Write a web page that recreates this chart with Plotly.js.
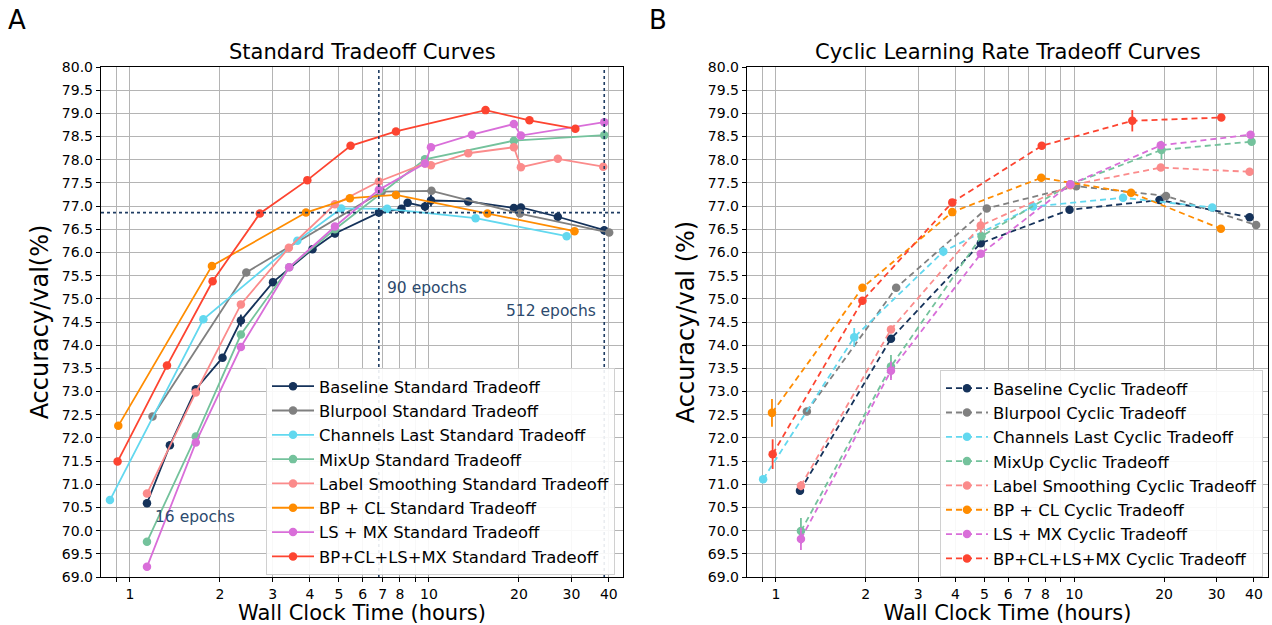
<!DOCTYPE html>
<html>
<head>
<meta charset="utf-8">
<script src="https://cdn.plot.ly/plotly-3.0.1.min.js"></script>
<style>html,body{margin:0;padding:0;background:#fff;}#chart{width:1272px;height:625px;}</style>
</head>
<body>
<div id="chart"></div>
<script>
// ---------- Standard tradeoff (panel A) ----------
const stdBaselineX = [1.14,1.36,1.66,2.04,2.35,3.01,4.08,4.85,6.80,8.10,8.49,9.70,10.16,13.54,19.24,20.31,27.0,38.6];
const stdBaselineY = [70.59,71.84,73.05,73.73,74.53,75.36,76.07,76.41,76.86,76.94,77.07,76.99,77.12,77.10,76.96,76.97,76.77,76.48];
const stdBaselineE = [0.03,0.03,0.03,0.03,0.13,0.03,0.05,0.08,0.03,0.05,0.08,0.1,0.13,0.05,0.05,0.05,0.05,0.05];
const stdBlurX = [1.19,2.45,6.95,10.2,20.15,40.1];
const stdBlurY = [72.46,75.57,77.31,77.33,76.84,76.43];
const stdCLX = [0.857,1.76,3.63,5.09,7.25,14.33,28.9];
const stdCLY = [70.66,74.56,76.25,76.95,76.94,76.74,76.35];
const stdMixX = [1.14,1.66,2.35,3.41,4.85,9.70,19.24,38.6];
const stdMixY = [69.76,72.03,74.23,75.68,76.50,78.01,78.41,78.53];
const stdLSX = [1.14,1.66,2.35,3.40,4.85,6.80,9.70,10.16,13.54,19.24,20.31,27.0,38.3];
const stdLSY = [70.80,72.98,74.88,76.10,77.04,77.53,77.92,77.88,78.14,78.27,77.84,78.02,77.85];
const stdBPCLX = [0.914,1.88,3.88,5.44,7.76,15.7,30.7];
const stdBPCLY = [72.26,75.71,76.86,77.17,77.24,76.84,76.46];
const stdLSMXX = [1.14,1.66,2.35,3.41,4.85,6.80,9.70,10.16,13.93,19.24,20.31,38.6];
const stdLSMXY = [69.22,71.90,73.96,75.68,76.56,77.35,77.92,78.27,78.54,78.77,78.52,78.81];
const stdAllX = [0.909,1.33,1.89,2.72,3.92,5.47,7.76,15.47,21.7,30.9];
const stdAllY = [71.49,73.56,75.38,76.84,77.56,78.30,78.61,79.07,78.85,78.67];

// ---------- Cyclic tradeoff (panel B) ----------
const cycBaselineX = [1.204,2.43,4.86,9.64,19.3,38.7];
const cycBaselineY = [70.86,74.14,76.20,76.92,77.13,76.76];
const cycBaselineE = [0.03,0.06,0.05,0.03,0.05,0.03];
const cycBlurX = [1.27,2.53,5.09,10.16,20.3,40.7];
const cycBlurY = [72.57,75.24,76.95,77.43,77.22,76.59];
const cycBlurE = [0.06,0.05,0.03,0.03,0.03,0.03];
const cycCLX = [0.906,1.83,3.64,7.27,14.57,29.0];
const cycCLY = [71.11,74.17,76.02,76.99,77.18,76.97];
const cycCLE = [0.06,0.2,0.1,0.03,0.03,0.03];
const cycMixX = [1.213,2.43,4.89,9.70,19.6,39.3];
const cycMixY = [69.99,73.54,76.35,77.47,78.21,78.39];
const cycMixE = [0.28,0.25,0.05,0.03,0.2,0.03];
const cycLSX = [1.213,2.43,4.86,9.70,19.5,38.7];
const cycLSY = [70.97,74.34,76.58,77.45,77.83,77.74];
const cycLSE = [0.1,0.08,0.15,0.03,0.03,0.03];
const cycBPCLX = [0.97,1.95,3.90,7.75,15.5,31.0];
const cycBPCLY = [72.54,75.24,76.87,77.61,77.29,76.51];
const cycBPCLE = [0.3,0.03,0.03,0.03,0.03,0.03];
const cycLSMXX = [1.213,2.43,4.86,9.70,19.5,38.97];
const cycLSMXY = [69.82,73.45,75.97,77.47,78.31,78.54];
const cycLSMXE = [0.24,0.2,0.05,0.03,0.03,0.03];
const cycAllX = [0.975,1.95,3.90,7.78,15.65,31.1];
const cycAllY = [71.65,74.96,77.08,78.30,78.84,78.91];
const cycAllE = [0.32,0.05,0.05,0.03,0.23,0.03];

const methodNames = ['Baseline','Blurpool','Channels Last','MixUp','Label Smoothing','BP + CL','LS + MX','BP+CL+LS+MX'];
const colors = ['#15325a','#808080','#62d8ef','#74c29c','#fb8b8b','#ff8c00','#d96ed9','#fd4430'];

const xTickVals = [0.9,1,2,3,4,5,6,7,8,9,10,20,30,40];
const xTickText = ['','1','2','3','4','5','6','7','8','','10','20','30','40'];

const FONT = 'DejaVu Sans, Verdana, sans-serif';

const stdSeries = [
  [stdBaselineX, stdBaselineY, stdBaselineE],
  [stdBlurX, stdBlurY, null],
  [stdCLX, stdCLY, null],
  [stdMixX, stdMixY, null],
  [stdLSX, stdLSY, null],
  [stdBPCLX, stdBPCLY, null],
  [stdLSMXX, stdLSMXY, null],
  [stdAllX, stdAllY, null]
];
const cycSeries = [
  [cycBaselineX, cycBaselineY, cycBaselineE],
  [cycBlurX, cycBlurY, cycBlurE],
  [cycCLX, cycCLY, cycCLE],
  [cycMixX, cycMixY, cycMixE],
  [cycLSX, cycLSY, cycLSE],
  [cycBPCLX, cycBPCLY, cycBPCLE],
  [cycLSMXX, cycLSMXY, cycLSMXE],
  [cycAllX, cycAllY, cycAllE]
];

const traces = [];
stdSeries.forEach((s, i) => {
  const t = {
    x: s[0], y: s[1], type: 'scatter', mode: 'lines+markers',
    name: methodNames[i] + ' Standard Tradeoff',
    line: {color: colors[i], width: 1.8},
    marker: {color: colors[i], size: 8.5},
    xaxis: 'x', yaxis: 'y', legend: 'legend', legendgroup: 's' + i
  };
  if (s[2]) t.error_y = {type: 'data', array: s[2], visible: true, color: colors[i], thickness: 1.8, width: 0};
  traces.push(t);
});
cycSeries.forEach((s, i) => {
  traces.push({
    x: s[0], y: s[1], type: 'scatter', mode: 'lines+markers',
    name: methodNames[i] + ' Cyclic Tradeoff',
    line: {color: colors[i], width: 1.8, dash: '6px,4px'},
    marker: {color: colors[i], size: 8.5},
    error_y: {type: 'data', array: s[2], visible: true, color: colors[i], thickness: 1.8, width: 0},
    xaxis: 'x2', yaxis: 'y2', legend: 'legend2', legendgroup: 'c' + i
  });
});

const xRange = [Math.log10(0.8), Math.log10(44.6)];
function xAxis(domain, anchor) {
  return {
    domain: domain, anchor: anchor, type: 'log', range: xRange,
    tickvals: xTickVals, ticktext: xTickText,
    showline: true, mirror: true, linecolor: '#000', linewidth: 1.2,
    ticks: 'outside', ticklen: 4, tickcolor: '#000',
    showgrid: true, gridcolor: '#b4b4b4', gridwidth: 1, zeroline: false,
    tickfont: {family: FONT, size: 14, color: '#000'},
    title: {text: 'Wall Clock Time (hours)', font: {family: FONT, size: 21, color: '#000'}, standoff: 3},
    automargin: false
  };
}
function yAxis(anchor, title) {
  return {
    anchor: anchor, domain: [0, 1], range: [69, 80], dtick: 0.5, tick0: 69, tickformat: '.1f',
    showline: true, mirror: true, linecolor: '#000', linewidth: 1.2,
    ticks: 'outside', ticklen: 4, tickcolor: '#000',
    showgrid: true, gridcolor: '#b4b4b4', gridwidth: 1, zeroline: false,
    tickfont: {family: FONT, size: 14, color: '#000'},
    title: {text: title, font: {family: FONT, size: 24, color: '#000'}, standoff: 6},
    automargin: false
  };
}

const refColor = '#1f3d63';
const shapes = [
  {type: 'line', xref: 'x domain', yref: 'y', x0: 0, x1: 1, y0: stdBaselineY[8], y1: stdBaselineY[8],
   line: {color: refColor, width: 1.6, dash: 'dot'}},
  {type: 'line', xref: 'x', yref: 'y domain', x0: stdBaselineX[8], x1: stdBaselineX[8], y0: 0, y1: 1,
   line: {color: refColor, width: 1.6, dash: 'dot'}},
  {type: 'line', xref: 'x', yref: 'y domain', x0: stdBaselineX[17], x1: stdBaselineX[17], y0: 0, y1: 1,
   line: {color: refColor, width: 1.6, dash: 'dot'}}
];

const annFont = {family: FONT, size: 15.5, color: '#2c4a6e'};
const annotations = [
  {text: 'Standard Tradeoff Curves', xref: 'paper', yref: 'paper', x: 0.2846, y: 1.029, showarrow: false,
   font: {family: FONT, size: 21, color: '#000'}, xanchor: 'center', yanchor: 'middle'},
  {text: 'Cyclic Learning Rate Tradeoff Curves', xref: 'paper', yref: 'paper', x: 0.7921, y: 1.029, showarrow: false,
   font: {family: FONT, size: 21, color: '#000'}, xanchor: 'center', yanchor: 'middle'},
  {text: 'A', xref: 'paper', yref: 'paper', x: 0.005, y: 1.092, showarrow: false,
   font: {family: FONT, size: 26, color: '#000'}, xanchor: 'left', yanchor: 'middle'},
  {text: 'B', xref: 'paper', yref: 'paper', x: 0.509, y: 1.092, showarrow: false,
   font: {family: FONT, size: 26, color: '#000'}, xanchor: 'left', yanchor: 'middle'},
  {text: '16 epochs', xref: 'x', yref: 'y', x: Math.log10(1.19), y: 70.29, showarrow: false,
   font: annFont, xanchor: 'left', yanchor: 'middle'},
  {text: '90 epochs', xref: 'x', yref: 'y', x: Math.log10(7.13), y: 75.23, showarrow: false,
   font: annFont, xanchor: 'left', yanchor: 'middle'},
  {text: '512 epochs', xref: 'x', yref: 'y', x: Math.log10(36.7), y: 74.74, showarrow: false,
   font: annFont, xanchor: 'right', yanchor: 'middle'}
];

const legendBase = {
  bgcolor: 'rgba(255,255,255,0.9)', bordercolor: '#d0d0d0', borderwidth: 1,
  font: {family: FONT, size: 16.4, color: '#000'}, tracegroupgap: 0, itemwidth: 42,
  xanchor: 'left', yanchor: 'top', itemclick: false
};

const layout = {
  width: 1272, height: 625,
  margin: {l: 0, r: 0, t: 67, b: 48},
  paper_bgcolor: '#fff', plot_bgcolor: '#fff',
  showlegend: true,
  xaxis: xAxis([101/1272, 623/1272], 'y'),
  yaxis: yAxis('x', 'Accuracy/val(%)'),
  xaxis2: xAxis([747/1272, 1268/1272], 'y2'),
  yaxis2: yAxis('x2', 'Accuracy/val (%)'),
  legend: Object.assign({}, legendBase, {x: 266/1272, y: (577-368)/510}),
  legend2: Object.assign({}, legendBase, {x: 940/1272, y: (577-370)/510}),
  shapes: shapes,
  annotations: annotations
};

Plotly.newPlot('chart', traces, layout, {staticPlot: true, displayModeBar: false});
</script>
</body>
</html>
